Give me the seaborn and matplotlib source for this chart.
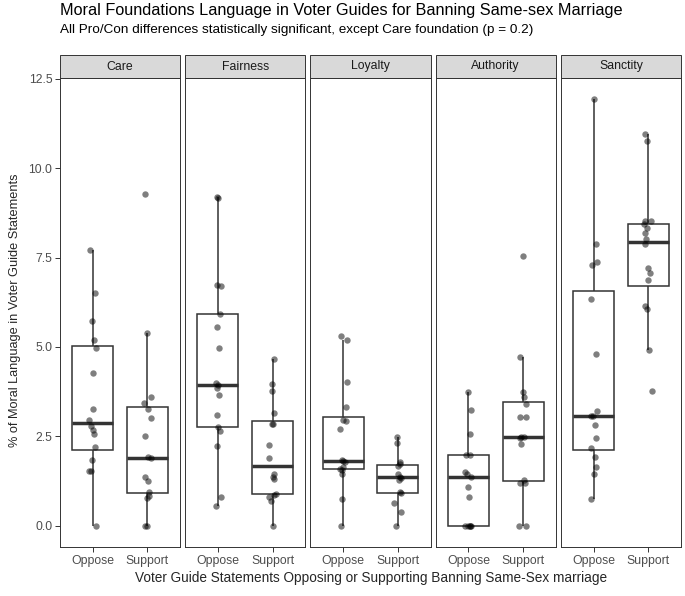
import numpy as np
import pandas as pd
import matplotlib.pyplot as plt
import seaborn as sns
from matplotlib.patches import Rectangle

foundations = ["Care", "Fairness", "Loyalty", "Authority", "Sanctity"]
stances = ["Oppose", "Support"]

# % moral language per voter guide statement
care_oppose = [7.71, 6.51, 5.72, 5.19, 4.98, 4.26, 3.27, 2.97, 2.78, 2.67, 2.57, 2.20, 1.83, 1.53, 1.53, 0.0]
care_support = [9.27, 5.40, 3.61, 3.43, 3.27, 3.02, 2.51, 1.91, 1.90, 1.37, 1.25, 0.93, 0.82, 0.77, 0.0, 0.0]
fairness_oppose = [9.20, 9.18, 6.73, 6.71, 5.92, 5.55, 4.96, 3.99, 3.94, 3.85, 3.67, 3.10, 2.76, 2.65, 2.22, 0.81, 0.54]
fairness_support = [4.66, 3.96, 3.76, 3.15, 2.85, 2.85, 2.27, 1.88, 1.44, 1.37, 1.32, 0.88, 0.86, 0.81, 0.68, 0.0]
loyalty_oppose = [5.31, 5.19, 4.03, 3.31, 2.95, 2.92, 2.71, 1.83, 1.80, 1.77, 1.65, 1.58, 1.55, 1.46, 0.74, 0.0]
loyalty_support = [2.48, 2.30, 1.79, 1.72, 1.68, 1.44, 1.37, 1.33, 1.28, 0.95, 0.92, 0.63, 0.38, 0.0]
authority_oppose = [3.73, 3.25, 2.56, 1.97, 1.97, 1.51, 1.45, 1.37, 1.09, 0.81, 0.0, 0.0, 0.0, 0.0, 0.0]
authority_support = [7.55, 4.73, 3.73, 3.59, 3.41, 3.04, 3.04, 2.48, 2.48, 2.44, 2.28, 1.28, 1.20, 1.19, 0.0, 0.0]
sanctity_oppose = [11.93, 7.88, 7.37, 7.30, 6.33, 4.80, 3.20, 3.06, 3.06, 2.83, 2.45, 2.18, 1.93, 1.65, 1.46, 0.74]
sanctity_support = [10.95, 10.75, 8.52, 8.52, 8.43, 8.34, 8.20, 8.02, 7.88, 7.22, 7.06, 6.88, 6.16, 6.07, 4.91, 3.77]

groups = {
    ("Care", "Oppose"): care_oppose, ("Care", "Support"): care_support,
    ("Fairness", "Oppose"): fairness_oppose, ("Fairness", "Support"): fairness_support,
    ("Loyalty", "Oppose"): loyalty_oppose, ("Loyalty", "Support"): loyalty_support,
    ("Authority", "Oppose"): authority_oppose, ("Authority", "Support"): authority_support,
    ("Sanctity", "Oppose"): sanctity_oppose, ("Sanctity", "Support"): sanctity_support,
}
rows = []
for (fnd, st), vals in groups.items():
    for v in vals:
        rows.append((fnd, st, v))
df = pd.DataFrame(rows, columns=["foundation", "stance", "pct"])

sns.set_theme(style="white")
plt.rcParams["font.family"] = ["Liberation Sans", "DejaVu Sans"]

W, H = 685, 596
fig, axes = plt.subplots(1, 5, figsize=(W / 100, H / 100), dpi=100, sharey=True)
fig.subplots_adjust(left=60 / W, right=681 / W, bottom=1 - 547 / H, top=1 - 78 / H, wspace=0.042)

ymax = df["pct"].max()
np.random.seed(7)
for i, (ax, fnd) in enumerate(zip(axes, foundations)):
    sub = df[df["foundation"] == fnd]
    sns.boxplot(data=sub, x="stance", y="pct", order=stances, ax=ax, width=0.75,
                color="white", linecolor="#333333", linewidth=1.1, showfliers=False,
                showcaps=False, medianprops=dict(linewidth=2.5, color="#333333"))
    sns.stripplot(data=sub, x="stance", y="pct", order=stances, ax=ax, jitter=0.07,
                  color="black", alpha=0.5, size=4.6, linewidth=0)
    ax.set_xlim(-0.6, 1.6)
    ax.set_ylim(-0.05 * ymax, 1.05 * ymax)
    ax.set_xlabel("")
    ax.set_ylabel("")
    for sp in ax.spines.values():
        sp.set_color("#333333")
        sp.set_linewidth(0.7)
    ax.tick_params(axis="x", bottom=True, length=3.5, width=0.7, color="#333333",
                   labelsize=8.8, labelcolor="#4D4D4D", pad=2)
    ax.tick_params(axis="y", left=(i == 0), length=3.5, width=0.7, color="#333333",
                   labelsize=8.8, labelcolor="#4D4D4D", pad=2)
    # facet strip
    strip_h = 23 / 469
    ax.add_patch(Rectangle((0, 1), 1, strip_h, transform=ax.transAxes, clip_on=False,
                           facecolor="#D9D9D9", edgecolor="#333333", linewidth=0.7))
    ax.text(0.5, 1 + strip_h / 2, fnd, transform=ax.transAxes, ha="center", va="center",
            fontsize=8.8, color="#1A1A1A")

yticks = [0, 2.5, 5, 7.5, 10, 12.5]
axes[0].set_yticks(yticks)
axes[0].set_yticklabels([f"{v:.1f}" for v in yticks])

fig.text(60 / W, 1 - 10 / H, "Moral Foundations Language in Voter Guides for Banning Same-sex Marriage",
         fontsize=11.7, color="black", va="center", ha="left")
fig.text(60 / W, 1 - 30 / H, "All Pro/Con differences statistically significant, except Care foundation (p = 0.2)",
         fontsize=9.7, color="black", va="center", ha="left")
fig.text(371 / W, 1 - 578 / H, "Voter Guide Statements Opposing or Supporting Banning Same-Sex marriage",
         fontsize=9.8, ha="center", va="center")
fig.text(15 / W, 1 - 310 / H, "% of Moral Language in Voter Guide Statements",
         fontsize=9.2, ha="center", va="center", rotation=90)

fig.savefig("out.png", dpi=100)
